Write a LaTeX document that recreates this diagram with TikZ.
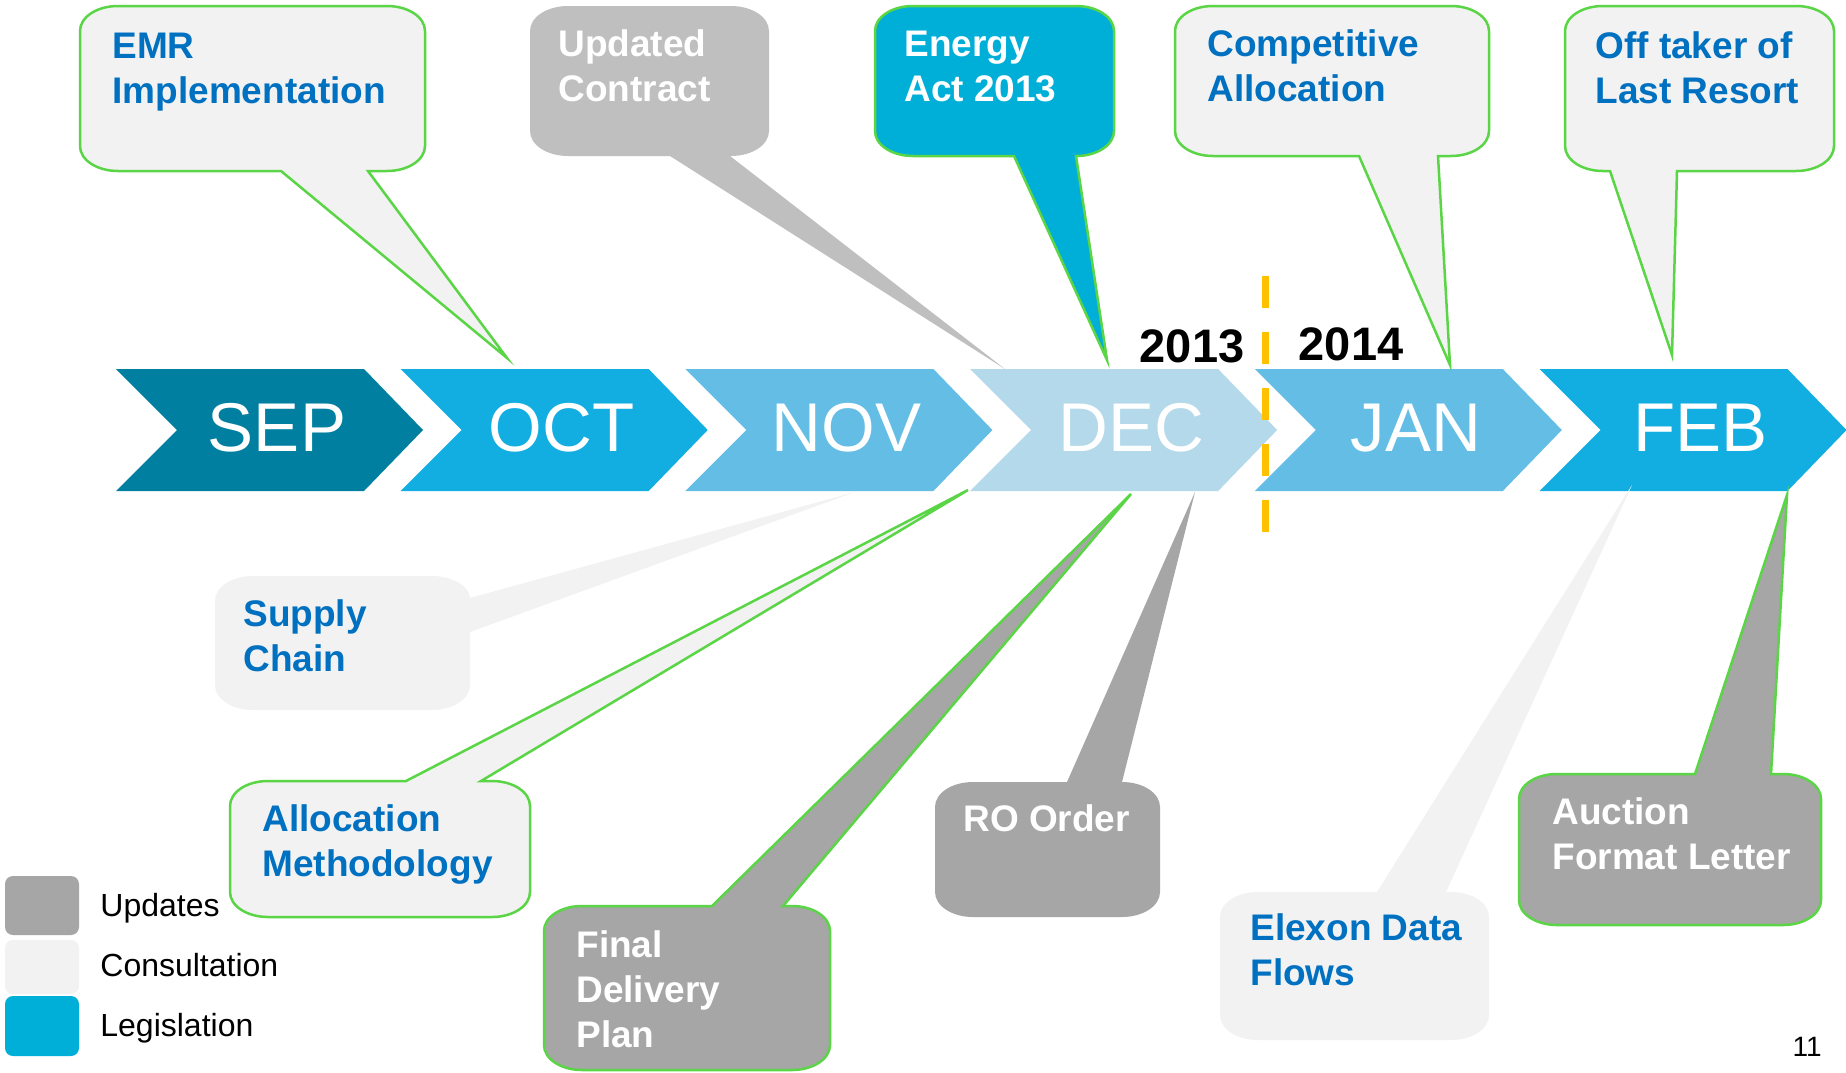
\documentclass[tikz,border=0pt]{standalone}
\usepackage{fontspec}
\setmainfont{Liberation Sans}
\definecolor{sepblue}{HTML}{007FA1}
\definecolor{octblue}{HTML}{13AEE1}
\definecolor{novblue}{HTML}{63BDE5}
\definecolor{decblue}{HTML}{B4D9EB}
\definecolor{legisblue}{HTML}{00AFD8}
\definecolor{updgrey}{HTML}{A6A6A6}
\definecolor{lightgrey}{HTML}{BFBFBF}
\definecolor{consgrey}{HTML}{F2F2F2}
\definecolor{edgegreen}{HTML}{5AD545}
\definecolor{textblue}{HTML}{0070C0}
\definecolor{yearline}{HTML}{FFC000}
\tikzstyle{consult} = [fill=consgrey]
\tikzstyle{consultedge} = [fill=consgrey, draw=edgegreen, line width=1.25pt]
\tikzstyle{update} = [fill=updgrey]
\tikzstyle{updateedge} = [fill=updgrey, draw=edgegreen, line width=1.25pt]
\tikzstyle{updatelight} = [fill=lightgrey]
\tikzstyle{legis} = [fill=legisblue, draw=edgegreen, line width=1.25pt]
\tikzstyle{bluetext} = [anchor=base west, inner sep=0pt, align=left, text=textblue, font=\fontsize{18.5}{22.3}\selectfont\bfseries]
\tikzstyle{whitetext} = [bluetext, text=white]
\tikzstyle{month} = [anchor=base, inner sep=0pt, text=white, font=\fontsize{34.5}{35}\selectfont]
\tikzstyle{year} = [anchor=base, inner sep=0pt, font=\fontsize{23.5}{24}\selectfont\bfseries]
\tikzstyle{legendbox} = [rounded corners=4pt]
\tikzstyle{legendtext} = [anchor=base west, inner sep=0pt, font=\fontsize{16}{16}\selectfont]
\tikzstyle{yearsplit} = [yearline, line width=3.5pt, dash pattern=on 16pt off 12pt]
\def\crx{38}
\def\cry{25}
\def\ccx{17}
\def\ccy{11}
\newcommand{\calloutdown}[9]{%
  \path[#1] (#2+\crx,#3) -- (#4-\crx,#3) .. controls (#4-\ccx,#3) and (#4,#3+\ccy) .. (#4,#3+\cry)
    -- (#4,#5-\cry) .. controls (#4,#5-\ccy) and (#4-\ccx,#5) .. (#4-\crx,#5)
    -- (#7,#5) -- (#8,#9) -- (#6,#5)
    -- (#2+\crx,#5) .. controls (#2+\ccx,#5) and (#2,#5-\ccy) .. (#2,#5-\cry)
    -- (#2,#3+\cry) .. controls (#2,#3+\ccy) and (#2+\ccx,#3) .. (#2+\crx,#3) -- cycle;}
\newcommand{\calloutup}[9]{%
  \path[#1] (#2+\crx,#3) -- (#6,#3) -- (#8,#9) -- (#7,#3)
    -- (#4-\crx,#3) .. controls (#4-\ccx,#3) and (#4,#3+\ccy) .. (#4,#3+\cry)
    -- (#4,#5-\cry) .. controls (#4,#5-\ccy) and (#4-\ccx,#5) .. (#4-\crx,#5)
    -- (#2+\crx,#5) .. controls (#2+\ccx,#5) and (#2,#5-\ccy) .. (#2,#5-\cry)
    -- (#2,#3+\cry) .. controls (#2,#3+\ccy) and (#2+\ccx,#3) .. (#2+\crx,#3) -- cycle;}

\begin{document}
\begin{tikzpicture}[x=0.5pt, y=-0.5pt]
  \path[use as bounding box, fill=white] (0,0) rectangle (1846,1072);

  \foreach \m/\c [count=\i from 0] in {SEP/sepblue, OCT/octblue, NOV/novblue, DEC/decblue, JAN/novblue, FEB/octblue} {
    \pgfmathsetmacro{\xs}{116+284.7*\i}
    \fill[\c] (\xs,369) -- (\xs+248,369) -- (\xs+307,430) -- (\xs+248,491) -- (\xs,491) -- (\xs+61,430) -- cycle;
    \node[month] (month\i) at (\xs+161,451) {\m};
  }

  \calloutdown{consultedge}{80}{6}{425}{171}{281}{368}{507}{358}
  \calloutdown{updatelight}{530}{6}{769}{156}{670}{730}{1005}{369}
  \calloutdown{legis}{875}{6}{1114}{156}{1014}{1076}{1107}{360}
  \calloutdown{consultedge}{1175}{6}{1489}{156}{1359}{1438}{1450}{365}
  \calloutdown{consultedge}{1565}{6}{1834}{171}{1610}{1677}{1672}{355}

  \fill[consgrey] (253,576) -- (432,576) .. controls (453,576) and (470,587) .. (470,598) -- (855,492) -- (470,632)
    -- (470,685) .. controls (470,699) and (453,710) .. (432,710) -- (253,710) .. controls (232,710) and (215,699) .. (215,685)
    -- (215,601) .. controls (215,587) and (232,576) .. (253,576) -- cycle;
  \calloutup{consultedge}{230}{781}{530}{917}{406}{481}{968}{490}
  \calloutup{updateedge}{544}{906}{830}{1070}{712}{783}{1131}{494}
  \calloutup{update}{935}{782}{1160}{917}{1067}{1122}{1195}{492}
  \calloutup{consult}{1220}{892}{1489}{1040}{1377}{1446}{1632}{485}
  \calloutup{updateedge}{1519}{774}{1821}{925}{1695}{1771}{1787}{495}

  \node[bluetext] (emr) at (112,103) {EMR\\Implementation};
  \node[whitetext] (contract) at (558,101) {Updated\\Contract};
  \node[whitetext] (energy) at (904,101) {Energy\\Act 2013};
  \node[bluetext] (compete) at (1207,101) {Competitive\\Allocation};
  \node[bluetext] (offtaker) at (1595,103) {Off taker of\\Last Resort};
  \node[bluetext] (supply) at (243,671) {Supply\\Chain};
  \node[bluetext] (method) at (262,876) {Allocation\\Methodology};
  \node[whitetext] (delivery) at (576,1047) {Final\\Delivery\\Plan};
  \node[whitetext] (ro) at (963,831) {RO Order};
  \node[bluetext] (elexon) at (1250,985) {Elexon Data\\Flows};
  \node[whitetext] (auction) at (1552,869) {Auction\\Format Letter};

  \fill[updgrey, legendbox] (5,876) rectangle (79,935);
  \fill[consgrey, legendbox] (5,940) rectangle (79,994);
  \fill[legisblue, legendbox] (5,996) rectangle (79,1056);
  \node[legendtext] (keyupd) at (100,916) {Updates};
  \node[legendtext] (keycons) at (100,976) {Consultation};
  \node[legendtext] (keylegis) at (100,1036) {Legislation};
  \node[anchor=base east, inner sep=0pt, font=\fontsize{14}{14}\selectfont] (page) at (1822,1056) {11};

  \node[year] (y2013) at (1192,362) {2013};
  \node[year] (y2014) at (1351,360) {2014};
  \coordinate (splittop) at (1265,276);
  \coordinate (splitbot) at (1265,532);
  \draw[yearsplit] (splittop) -- (splitbot);
\end{tikzpicture}
\end{document}
